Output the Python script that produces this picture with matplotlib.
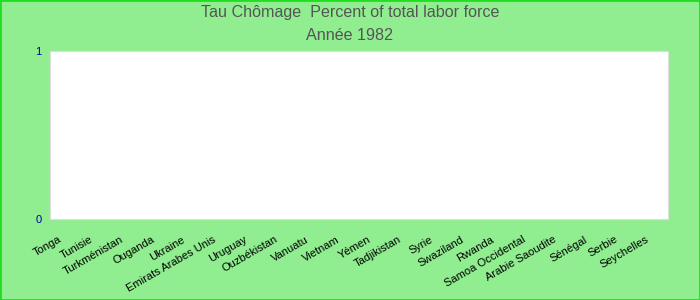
import numpy as np
import matplotlib.pyplot as plt
from matplotlib.transforms import ScaledTranslation

plt.rcParams['font.family'] = ['Liberation Sans', 'DejaVu Sans']

pays = ['Tonga', 'Tunisie', 'Turkménistan', 'Ouganda', 'Ukraine',
        'Emirats Arabes Unis', 'Uruguay', 'Ouzbékistan', 'Vanuatu', 'Vietnam',
        'Yémen', 'Tadjikistan', 'Syrie', 'Swaziland', 'Rwanda',
        'Samoa Occidental', 'Arabie Saoudite', 'Sénégal', 'Serbie', 'Seychelles']
# aucune valeur disponible pour 1982
chomage = [np.nan] * len(pays)
y_ticks = [0, 1]

fig = plt.figure(figsize=(7, 3), dpi=100, facecolor='#90ee90')
fig.patches.append(plt.Rectangle((0, 0), 1, 1, transform=fig.transFigure,
                                 fill=False, edgecolor='#22dd22', linewidth=2))
ax = fig.add_axes([0.0714, 0.27, 0.883, 0.56])
ax.set_facecolor('white')

x = np.arange(len(pays))
ax.bar(x, chomage, color='#4466cc')
ax.set_xlim(-0.5, len(pays) - 0.5)
ax.set_ylim(0, 1)

ax.set_yticks(y_ticks)
ax.set_yticklabels([str(v) for v in y_ticks], color='#0000aa', fontsize=8)
ax.set_xticks(x)
ax.set_xticklabels(pays, rotation=30, ha='right', rotation_mode='anchor', fontsize=8)
ax.tick_params(axis='both', length=0)
ax.tick_params(axis='x', pad=11)
ax.tick_params(axis='y', pad=6)
decalage = ScaledTranslation(-7 / 100, 0, fig.dpi_scale_trans)
for lab in ax.get_xticklabels():
    lab.set_transform(lab.get_transform() + decalage)
for s in ax.spines.values():
    s.set_color('#dddddd')

fig.text(0.5, 0.957, 'Tau Chômage  Percent of total labor force', ha='center', va='center',
         fontsize=11.6, color='#555555')
fig.text(0.5, 0.88, 'Année 1982', ha='center', va='center', fontsize=11.6, color='#555555')

fig.savefig('out.png', facecolor=fig.get_facecolor())
